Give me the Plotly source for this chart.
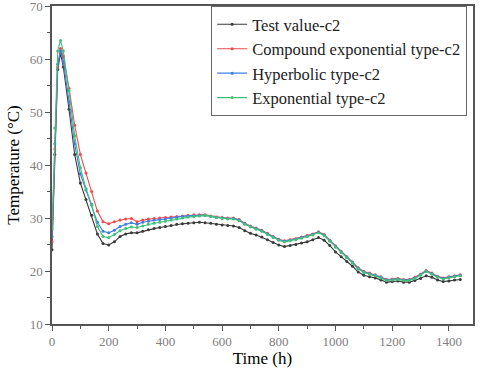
import plotly.graph_objects as go

TIME = [0, 10, 20, 30, 40, 60, 80, 100, 120, 140, 160, 180, 200, 220, 240, 260,
        280, 300, 320, 340, 360, 380, 400, 420, 440, 460, 480, 500, 520, 540,
        560, 580, 600, 620, 640, 660, 680, 700, 720, 740, 760, 780, 800, 820,
        840, 860, 880, 900, 920, 940, 960, 980, 1000, 1020, 1040, 1060, 1080,
        1100, 1120, 1140, 1160, 1180, 1200, 1220, 1240, 1260, 1280, 1300, 1320,
        1340, 1360, 1380, 1400, 1420, 1440]

TEST_VALUE = [24.0, 42.0, 58.0, 61.0, 58.5, 50.5, 42.0, 36.6, 33.5, 30.5, 27.0,
              25.2, 24.9, 25.5, 26.5, 27.0, 27.2, 27.2, 27.5, 27.8, 28.0, 28.2,
              28.4, 28.6, 28.8, 28.9, 29.0, 29.1, 29.2, 29.1, 29.0, 28.8, 28.7,
              28.6, 28.5, 28.2, 27.6, 27.1, 26.8, 26.4, 25.9, 25.4, 24.9, 24.6,
              24.8, 25.0, 25.3, 25.5, 25.9, 26.3, 25.8, 24.8, 23.6, 22.7, 21.8,
              20.9, 19.8, 19.2, 18.9, 18.7, 18.3, 17.9, 18.0, 18.1, 17.9, 17.9,
              18.2, 18.6, 19.1, 18.8, 18.3, 18.0, 18.1, 18.3, 18.4]

COMPOUND_EXP = [25.5, 43.0, 58.5, 62.0, 60.5, 54.5, 47.5, 42.0, 38.5, 35.0, 31.3,
                29.3, 28.9, 29.3, 29.6, 29.8, 29.9, 29.3, 29.6, 29.8, 29.9, 30.0,
                30.1, 30.2, 30.3, 30.4, 30.5, 30.6, 30.6, 30.6, 30.4, 30.2, 30.1,
                30.0, 30.0, 29.7, 29.0, 28.5, 28.1, 27.7, 27.1, 26.5, 26.0, 25.7,
                25.9, 26.1, 26.4, 26.7, 27.0, 27.4, 26.9, 25.8, 24.7, 23.7, 22.7,
                21.7, 20.6, 19.9, 19.6, 19.3, 18.9, 18.4, 18.5, 18.6, 18.4, 18.4,
                18.8, 19.4, 20.1, 19.6, 19.0, 18.7, 18.9, 19.1, 19.3]

HYPERBOLIC = [26.5, 44.0, 59.0, 61.5, 59.5, 52.0, 44.0, 38.3, 35.3, 32.6, 29.2,
              27.5, 27.2, 27.7, 28.4, 28.8, 29.1, 28.8, 29.2, 29.4, 29.6, 29.7,
              29.8, 30.0, 30.1, 30.3, 30.4, 30.4, 30.5, 30.5, 30.3, 30.1, 30.0,
              29.9, 29.9, 29.6, 28.9, 28.4, 28.0, 27.6, 27.0, 26.4, 25.9, 25.6,
              25.8, 26.0, 26.3, 26.6, 26.9, 27.3, 26.8, 25.7, 24.6, 23.6, 22.6,
              21.6, 20.5, 19.8, 19.5, 19.2, 18.8, 18.3, 18.4, 18.5, 18.3, 18.3,
              18.7, 19.3, 20.0, 19.5, 18.9, 18.6, 18.8, 19.0, 19.2]

EXPONENTIAL = [28.0, 47.0, 61.5, 63.5, 61.5, 54.0, 45.5, 39.5, 35.5, 32.4, 28.4,
               26.5, 26.3, 26.9, 27.6, 28.0, 28.3, 28.2, 28.5, 28.8, 29.0, 29.2,
               29.4, 29.6, 29.8, 30.0, 30.2, 30.3, 30.4, 30.5, 30.3, 30.1, 29.9,
               29.8, 29.8, 29.5, 28.8, 28.3, 27.9, 27.5, 26.9, 26.3, 25.8, 25.5,
               25.7, 25.9, 26.2, 26.5, 26.8, 27.2, 26.7, 25.6, 24.5, 23.5, 22.5,
               21.5, 20.4, 19.7, 19.4, 19.1, 18.7, 18.2, 18.3, 18.4, 18.2, 18.2,
               18.6, 19.2, 19.9, 19.4, 18.8, 18.5, 18.7, 18.9, 19.1]

SERIES = [
    ("Test value-c2", TEST_VALUE, "#3a3a3a"),
    ("Compound exponential type-c2", COMPOUND_EXP, "#ee4a4d"),
    ("Hyperbolic type-c2", HYPERBOLIC, "#3d7fe3"),
    ("Exponential type-c2", EXPONENTIAL, "#3fbf78"),
]

SERIF = "Liberation Serif"
TICK_FONT = {"family": SERIF, "size": 13, "color": "#808080"}
LABEL_FONT = {"family": SERIF, "size": 17, "color": "black"}
LEGEND_FONT = {"family": SERIF, "size": 16.5, "color": "#222"}
AXIS_COLOR = "#555555"

data = []
for name, values, color in SERIES:
    data.append(go.Scatter(
        x=TIME,
        y=values,
        name=name,
        mode="lines+markers",
        line={"color": color, "width": 1.1},
        marker={"color": color, "size": 3},
    ))

layout = go.Layout(
    width=480,
    height=375,
    margin={"l": 52, "r": 7, "t": 6, "b": 51, "pad": 0},
    paper_bgcolor="white",
    plot_bgcolor="white",
    showlegend=True,
    xaxis={
        "title": {"text": "Time (h)", "font": LABEL_FONT, "standoff": 3},
        "automargin": False,
        "ticklabeloverflow": "allow",
        "range": [0, 1485],
        "dtick": 200,
        "tick0": 0,
        "showgrid": False,
        "zeroline": False,
        "ticks": "outside",
        "ticklen": 5,
        "tickcolor": AXIS_COLOR,
        "tickfont": TICK_FONT,
        "showline": True,
        "linecolor": AXIS_COLOR,
        "linewidth": 1.5,
        "mirror": True,
        "minor": {"dtick": 100, "ticks": "outside", "ticklen": 3,
                  "tickcolor": AXIS_COLOR},
    },
    yaxis={
        "title": {"text": "Temperature (°C)", "font": LABEL_FONT, "standoff": 6},
        "automargin": False,
        "ticklabeloverflow": "allow",
        "range": [10, 70],
        "dtick": 10,
        "showgrid": False,
        "zeroline": False,
        "ticks": "outside",
        "ticklen": 5,
        "tickcolor": AXIS_COLOR,
        "tickfont": TICK_FONT,
        "showline": True,
        "linecolor": AXIS_COLOR,
        "linewidth": 1.5,
        "mirror": True,
        "minor": {"dtick": 5, "ticks": "outside", "ticklen": 3,
                  "tickcolor": AXIS_COLOR},
    },
    legend={
        "x": 0.378,
        "y": 1.0,
        "xanchor": "left",
        "yanchor": "top",
        "font": LEGEND_FONT,
        "bgcolor": "white",
        "bordercolor": "#666",
        "borderwidth": 1,
        "tracegroupgap": 0,
    },
)

fig = go.Figure(data=data, layout=layout)
# drop the default 8px body margin so the 480x375 figure fills the window
fig.write_html(
    "out.html",
    config={"displayModeBar": False},
    post_script="document.body.style.margin = '0';",
)
